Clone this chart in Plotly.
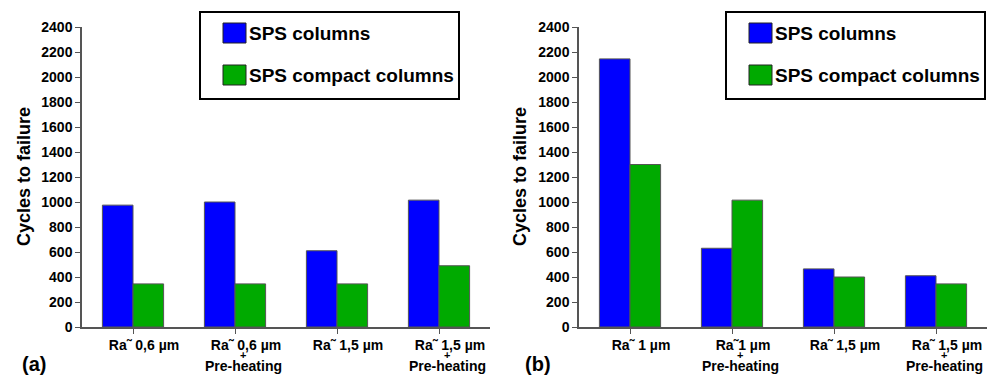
import plotly.graph_objects as go

W, H = 997, 379

cats_a = ["Ra˜ 0,6 µm", "Ra˜ 0,6 µm", "Ra˜ 1,5 µm", "Ra˜ 1,5 µm"]
extra_a = ["", "Pre-heating", "", "Pre-heating"]
sps_a = [975, 1000, 610, 1015]
compact_a = [345, 345, 345, 490]

cats_b = ["Ra˜ 1 µm", "Ra˜1 µm", "Ra˜ 1,5 µm", "Ra˜ 1,5 µm"]
extra_b = ["", "Pre-heating", "", "Pre-heating"]
sps_b = [2145, 630, 465, 410]
compact_b = [1300, 1015, 400, 345]

series_names = ["SPS columns", "SPS compact columns"]
y_ticks = list(range(0, 2401, 200))

BLUE = "#0000FF"
GREEN = "#00AA00"
FONT = "Liberation Sans"


def px(x):
    return x / W


def py(y):
    return 1 - y / H


fig = go.Figure()
for xa, ya, cats, s1, s2 in [("x", "y", cats_a, sps_a, compact_a), ("x2", "y2", cats_b, sps_b, compact_b)]:
    idx = list(range(len(cats)))
    fig.add_trace(go.Bar(x=idx, y=s1, name=series_names[0], marker=dict(color=BLUE, line=dict(color="#555555", width=1)),
                         xaxis=xa, yaxis=ya, showlegend=False))
    fig.add_trace(go.Bar(x=idx, y=s2, name=series_names[1], marker=dict(color=GREEN, line=dict(color="#555555", width=1)),
                         xaxis=xa, yaxis=ya, showlegend=False))

tickfont = dict(family=FONT, size=14, color="black", weight="bold")
xcommon = dict(range=[-0.5, 3.5], tickmode="array", tickvals=[0, 1, 2, 3], ticks="outside", ticklen=5,
               tickcolor="#555555", showline=True, linecolor="#555555", linewidth=1.5, showgrid=False,
               zeroline=False, tickfont=tickfont, ticklabelshift=11, ticklabelstandoff=-1,
               automargin=False, fixedrange=True)
ycommon = dict(range=[0, 2400], tickmode="array", tickvals=y_ticks, ticks="outside", ticklen=5,
               tickcolor="#555555", showline=True, linecolor="#555555", linewidth=1.5, showgrid=False,
               zeroline=False, tickfont=tickfont, automargin=False, fixedrange=True)

ydom = [py(327), py(27)]
fig.update_layout(
    width=W, height=H, margin=dict(l=0, r=0, t=0, b=0, autoexpand=False),
    paper_bgcolor="white", plot_bgcolor="white",
    barmode="group", bargap=0.4, bargroupgap=0,
    xaxis=dict(domain=[px(82), px(490)], anchor="y", ticktext=cats_a, **xcommon),
    yaxis=dict(domain=ydom, anchor="x", **ycommon),
    xaxis2=dict(domain=[px(579), px(987)], anchor="y2", ticktext=cats_b, **xcommon),
    yaxis2=dict(domain=ydom, anchor="x2", **ycommon),
    font=dict(family=FONT),
)

ann = []
shapes = []
# "+" and "Pre-heating" under two-line labels
for xa, extra in [("x", extra_a), ("x2", extra_b)]:
    for i, e in enumerate(extra):
        if e:
            ann.append(dict(x=i, xref=xa, y=py(355), yref="paper", text="+", showarrow=False, xshift=8,
                            font=dict(family=FONT, size=11, color="black", weight="bold"),
                            xanchor="center", yanchor="middle"))
            ann.append(dict(x=i, xref=xa, y=py(366), yref="paper", text=e, showarrow=False, xshift=8,
                            font=dict(family=FONT, size=14, color="black", weight="bold"),
                            xanchor="center", yanchor="middle"))

# Y titles and panel labels
for xpx, lab_x, lab in [(24, 34, "(a)"), (520, 538, "(b)")]:
    ann.append(dict(x=px(xpx), y=py(177), xref="paper", yref="paper", text="Cycles to failure", textangle=-90,
                    showarrow=False, xanchor="center", yanchor="middle",
                    font=dict(family=FONT, size=18, color="black", weight="bold")))
    ann.append(dict(x=px(lab_x), y=py(364), xref="paper", yref="paper", text=lab, showarrow=False,
                    xanchor="center", yanchor="middle",
                    font=dict(family=FONT, size=20, color="black", weight="bold")))

# Legend boxes
for bx0, bx1, sw0 in [(200, 459, 223), (726, 985, 749)]:
    shapes.append(dict(type="rect", xref="paper", yref="paper", x0=px(bx0), x1=px(bx1), y0=py(99), y1=py(12),
                       line=dict(color="black", width=2), fillcolor="white", layer="above"))
    for (yc, col, name) in [(33, BLUE, series_names[0]), (75, GREEN, series_names[1])]:
        shapes.append(dict(type="rect", xref="paper", yref="paper", x0=px(sw0), x1=px(sw0 + 23),
                           y0=py(yc + 10), y1=py(yc - 10), line=dict(color="#222222", width=1), fillcolor=col,
                           layer="above"))
        ann.append(dict(x=px(sw0 + 24), y=py(yc), xref="paper", yref="paper", text=name, showarrow=False,
                        xanchor="left", yanchor="middle",
                        font=dict(family=FONT, size=19, color="black", weight="bold")))

fig.update_layout(annotations=ann, shapes=shapes)
fig.write_html("out.html", config={"displayModeBar": False},
               post_script="document.body.style.margin='0px';")
